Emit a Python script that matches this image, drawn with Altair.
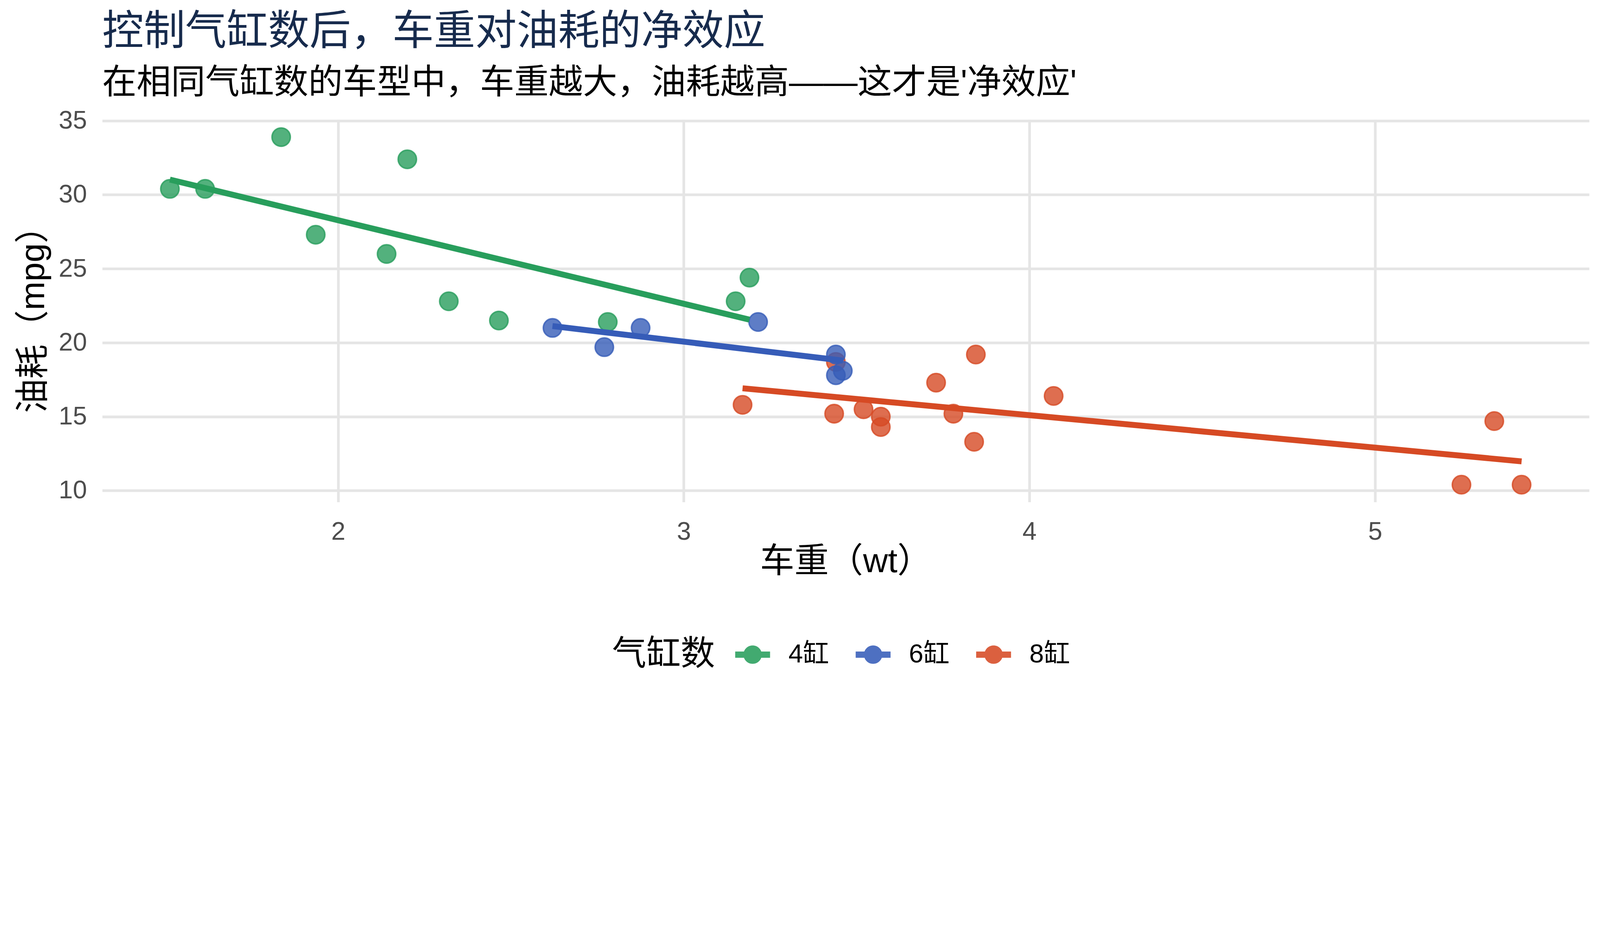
import altair as alt
import pandas as pd

# mtcars: weight (1000 lbs), miles per gallon, cylinders
wt = [2.620, 2.875, 2.320, 3.215, 3.440, 3.460, 3.570, 3.190, 3.150, 3.440, 3.440,
      4.070, 3.730, 3.780, 5.250, 5.424, 5.345, 2.200, 1.615, 1.835, 2.465, 3.520,
      3.435, 3.840, 3.845, 1.935, 2.140, 1.513, 3.170, 2.770, 3.570, 2.780]
mpg = [21.0, 21.0, 22.8, 21.4, 18.7, 18.1, 14.3, 24.4, 22.8, 19.2, 17.8,
       16.4, 17.3, 15.2, 10.4, 10.4, 14.7, 32.4, 30.4, 33.9, 21.5, 15.5,
       15.2, 13.3, 19.2, 27.3, 26.0, 30.4, 15.8, 19.7, 15.0, 21.4]
cyl = [6, 6, 4, 6, 8, 6, 8, 4, 4, 6, 6,
       8, 8, 8, 8, 8, 8, 4, 4, 4, 4, 8,
       8, 8, 8, 4, 4, 4, 8, 6, 8, 4]

groups = ["4缸", "6缸", "8缸"]
group_colors = ["#289E5C", "#365CB8", "#D64A24"]
x_ticks = [2, 3, 4, 5]
y_ticks = [10, 15, 20, 25, 30, 35]

df = pd.DataFrame({"wt": wt, "mpg": mpg, "cyl": [f"{c}缸" for c in cyl]})

FONT = "Liberation Sans, Noto Sans CJK SC, sans-serif"
SYMBOL = ("M-1,0 A1,1 0 1,1 1,0 A1,1 0 1,1 -1,0 Z "
          "M-1.9,-0.34 L1.9,-0.34 L1.9,0.34 L-1.9,0.34 Z")

xs = alt.X("wt:Q",
           scale=alt.Scale(domain=[1.31745, 5.61955], nice=False, zero=False),
           axis=alt.Axis(values=x_ticks, title="车重（wt）", labelPadding=59,
                         titlePadding=0))
ys = alt.Y("mpg:Q",
           scale=alt.Scale(domain=[9.225, 35.075], nice=False, zero=False),
           axis=alt.Axis(values=y_ticks, title="油耗（mpg）", labelPadding=52,
                         titlePadding=25))

legend = alt.Legend(
    title="气缸数", orient="none", legendX=1722, legendY=1762,
    direction="horizontal", titleOrient="left", titleFont=FONT,
    titleFontSize=116, titleFontWeight="normal", titleColor="black",
    titlePadding=83, titleBaseline="middle", titleAnchor="middle",
    titleLimit=2000, labelLimit=1000,
    labelFont=FONT, labelFontSize=88, labelColor="black", labelOffset=77,
    columnPadding=90, symbolType=SYMBOL, symbolSize=3844,
    symbolStrokeWidth=0, symbolOpacity=0.88,
)
color = alt.Color("cyl:N", scale=alt.Scale(domain=groups, range=group_colors),
                  legend=legend)

points = alt.Chart(df).mark_circle(
    size=3844, fillOpacity=0.8, strokeOpacity=0.8, strokeWidth=5
).encode(
    x=xs, y=ys, color=color,
    stroke=alt.Stroke("cyl:N", scale=alt.Scale(domain=groups, range=group_colors),
                      legend=None),
)

lines = alt.Chart(df).transform_regression(
    "wt", "mpg", groupby=["cyl"]
).mark_line(strokeWidth=20).encode(x=xs, y=ys, color=color)

chart = alt.layer(points, lines).properties(
    width=5023, height=1291,
    background="white",
    autosize=alt.AutoSizeParams(type="none"),
    padding={"left": 335, "top": 67, "right": 26, "bottom": 686},
    title=alt.TitleParams(
        text="控制气缸数后，车重对油耗的净效应",
        subtitle="在相同气缸数的车型中，车重越大，油耗越高——这才是'净效应'",
        anchor="start", frame="group", font=FONT, fontSize=140,
        fontWeight="normal", color="#172B4D", subtitleFont=FONT,
        subtitleFontSize=116, subtitleColor="black", offset=25,
        subtitlePadding=45,
    ),
).configure_view(stroke="transparent").configure_axis(
    grid=True, gridColor="#E5E5E5", gridWidth=9, domain=False, ticks=False,
    tickSize=0, labelFont=FONT, labelFontSize=86, labelColor="#4D4D4D",
    titleFont=FONT, titleFontSize=116, titleColor="black",
    titleFontWeight="normal",
)

chart.save("out.html", embed_options={"renderer": "svg", "actions": False})
